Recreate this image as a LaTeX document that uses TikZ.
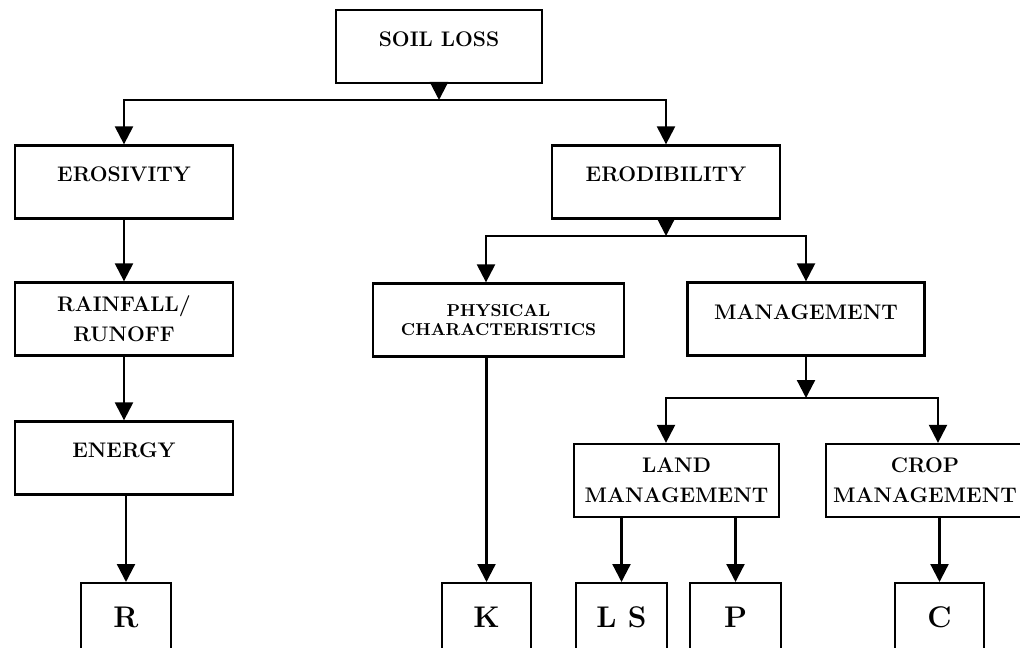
\documentclass[tikz,border=0pt]{standalone}
\usepackage{fontspec}
\usepackage{tikz}
\usetikzlibrary{positioning,arrows.meta}

\begin{document}
\begin{tikzpicture}[x=0.02cm, y=-0.02cm, line width=1.3pt,
    >={Triangle[length=0.36cm,width=0.36cm]},
    box/.style={draw, minimum height=1.46cm, inner sep=0pt, align=center,
      font=\fontsize{12}{17}\selectfont\bfseries},
    oneline/.style={text depth=0.84em},
    small/.style={font=\fontsize{9.8}{10.8}\selectfont\bfseries},
    letter/.style={draw, anchor=north, minimum height=1.6cm, inner sep=0pt,
      text depth=0.68em, font=\fontsize{17}{19}\selectfont\bfseries}]
    \useasboundingbox (0,0) rectangle (1020,648);
    \clip (0,0) rectangle (1020,648);

    \node [box, oneline, minimum width=4.12cm] (soil) at (439,46.5) {SOIL LOSS};
    \node [box, oneline, minimum width=4.36cm] (eros) at (124,182) {EROSIVITY};
    \node [box, oneline, minimum width=4.56cm] (erod) at (666,182) {ERODIBILITY};
    \node [box, minimum width=4.36cm] (rain) at (124,319) {RAINFALL/\\RUNOFF};
    \node [box, small, minimum width=5.02cm] (phys) at (498.5,320) {PHYSICAL\\CHARACTERISTICS};
    \node [box, oneline, minimum width=4.74cm] (mgmt) at (806,319) {MANAGEMENT};
    \node [box, oneline, minimum width=4.36cm] (energy) at (124,458) {ENERGY};
    \node [box, minimum width=4.1cm] (land) at (676.5,480.5) {LAND\\MANAGEMENT};
    \node [box, minimum width=3.96cm] (crop) at (925,480.5) {CROP\\MANAGEMENT};

    \node [letter, minimum width=1.8cm] (R) at (126,582) {R};
    \node [letter, minimum width=1.78cm] (K) at (486.5,582) {K};
    \node [letter, minimum width=1.82cm] (LS) at (621.5,582) {L S};
    \node [letter, minimum width=1.82cm] (P) at (735.5,582) {P};
    \node [letter, minimum width=1.78cm] (C) at (939.5,582) {C};

    \coordinate (top) at (439,100);
    \coordinate (mid) at (666,236);
    \coordinate (low) at (806,398);

    \draw [->] (soil) -- (top);
    \draw [->] (top) -| (eros);
    \draw [->] (top) -| (erod);
    \draw [->] (eros) -- (rain);
    \draw [->] (rain) -- (energy);
    \draw [->] (energy.south -| R) -- (R);
    \draw [->] (erod) -- (mid);
    \draw [->] (mid) -| ([xshift=-0.25cm]phys.north);
    \draw [->] (mid) -| (mgmt);
    \draw [->] (phys.south -| K) -- (K);
    \draw [->] (mgmt) -- (low);
    \draw [->] (low) -| ([xshift=-0.21cm]land.north);
    \draw [->] (low) -| ([xshift=0.26cm]crop.north);
    \draw [->] (land.south -| LS) -- (LS);
    \draw [->] (land.south -| P) -- (P);
    \draw [->] (crop.south -| C) -- (C);
\end{tikzpicture}
\end{document}
